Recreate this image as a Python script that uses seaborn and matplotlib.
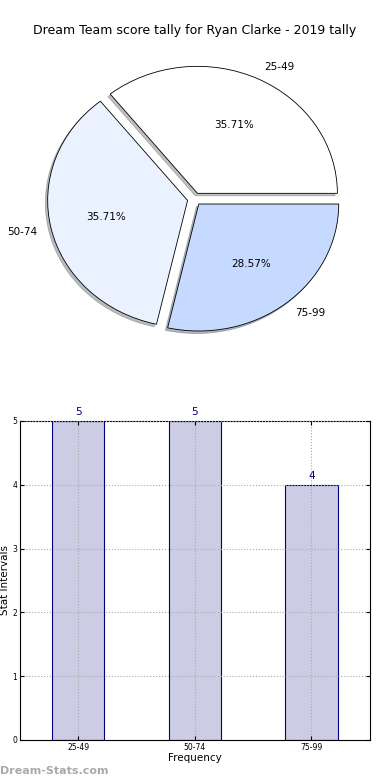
import matplotlib
matplotlib.use("Agg")
import matplotlib.pyplot as plt
import seaborn as sns

# data
categories = ["25-49", "50-74", "75-99"]
counts = [5, 5, 4]
pie_colors = ["#FFFFFF", "#EBF2FF", "#C6D9FE"]
bar_color = "#CCCCE5"
edge_color = "#000080"

sns.set_style("white")
plt.rcParams["font.family"] = ["DejaVu Sans"]
plt.rcParams["text.color"] = "black"
plt.rcParams["axes.labelcolor"] = "black"
plt.rcParams["xtick.color"] = "black"
plt.rcParams["ytick.color"] = "black"

fig = plt.figure(figsize=(3.9, 7.8), dpi=100)

# ---- pie ----
ax_pie = fig.add_axes([0.05, 0.5413, 0.897, 0.407])
wedges, texts, autotexts = ax_pie.pie(
    counts, labels=categories, colors=pie_colors, explode=[0.05] * 3,
    autopct="%.2f%%", shadow={"ox": -0.012, "oy": -0.014, "shade": 0.5},
    startangle=0, counterclock=True,
    wedgeprops={"edgecolor": "black", "linewidth": 0.6},
    textprops={"fontsize": 7.5},
)
ax_pie.set_aspect("auto")
fig.text(0.5, 0.961, "Dream Team score tally for Ryan Clarke - 2019 tally",
         ha="center", va="center", fontsize=9)

# ---- bars ----
ax_bar = fig.add_axes([0.051, 0.0513, 0.897, 0.409])
sns.barplot(x=categories, y=counts, color=bar_color, edgecolor=edge_color,
            linewidth=0.8, width=0.45, saturation=1, ax=ax_bar)
ax_bar.set_xlim(-0.5, 2.5)
ax_bar.set_ylim(0, 5)
ax_bar.set_axisbelow(False)
ax_bar.grid(True, linestyle=":", color="#AAAAAA", linewidth=0.8)
ax_bar.tick_params(direction="in", labelsize=5.5, length=3, top=True, right=True,
                   bottom=True, left=True, pad=2)
for sp in ax_bar.spines.values():
    sp.set_color("black")
    sp.set_linewidth(0.8)
for i, v in enumerate(counts):
    ax_bar.annotate(str(v), (i, v), xytext=(0, 3), textcoords="offset points",
                    ha="center", va="bottom", color=edge_color, fontsize=7.5)
ax_bar.set_xlabel("Frequency", fontsize=7.5, labelpad=1)
ax_bar.set_ylabel("Stat Intervals", fontsize=7.5)
ax_bar.yaxis.set_label_coords(-0.027, 0.5)

fig.text(0.0, 0.012, "Dream-Stats.com", color="#AAAAAA", fontsize=8,
         fontweight="bold", ha="left", va="center")

fig.savefig("out.png", dpi=100)
